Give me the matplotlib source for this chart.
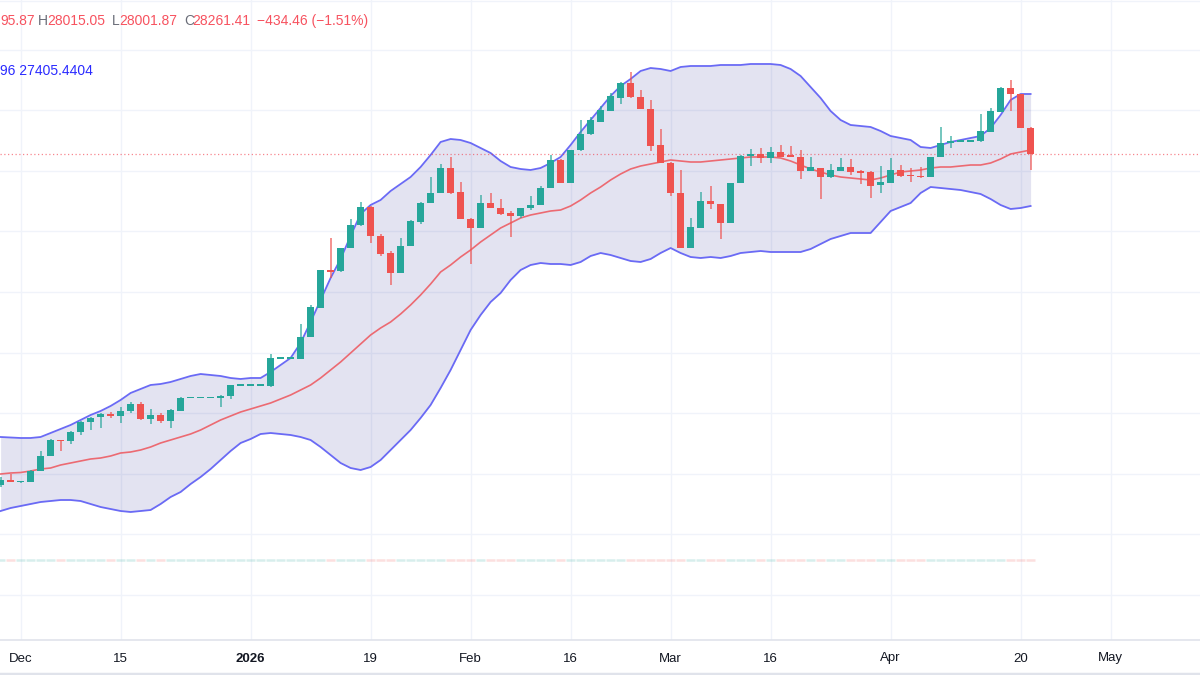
import numpy as np
import pandas as pd
import matplotlib
matplotlib.use("Agg")
import matplotlib.pyplot as plt

# ---------------- data ----------------
dates = pd.bdate_range("2025-11-27", periods=104)

opens = [
    25150, 25200, 25180, 25180, 25290, 25440, 25600, 25590, 25680, 25780,
    25830, 25855, 25840, 25890, 25960, 25810, 25850, 25790, 25890, 26023,
    26023, 26023, 26025, 26040, 26150, 26150, 26150, 26140, 26420, 26420,
    26410, 26630, 26920, 27300, 27290, 27520, 27750, 27930, 27640, 27470,
    27270, 27540, 27780, 27970, 28070, 28320, 28080, 27810, 27720, 27970,
    27920, 27870, 27840, 27920, 27950, 28120, 28400, 28170, 28500, 28660,
    28780, 28890, 29020, 29170, 29030, 28910, 28550, 28370, 28070, 27520,
    27720, 27990, 27960, 27770, 28170, 28440, 28460, 28420, 28480, 28445,
    28430, 28290, 28320, 28230, 28290, 28330, 28285, 28280, 28150, 28170,
    28300, 28250, 28240, 28230, 28430, 28570, 28590, 28590, 28590, 28680,
    28880, 29120, 29060, 28720,
]
highs = [
    25230, 25260, 25190, 25300, 25490, 25610, 25600, 25690, 25790, 25830,
    25870, 25880, 25930, 25980, 25980, 25910, 25870, 25910, 26030, 26023,
    26023, 26023, 26050, 26150, 26150, 26150, 26150, 26460, 26420, 26420,
    26760, 26950, 27300, 27620, 27520, 27810, 27980, 27940, 27660, 27490,
    27620, 27800, 27980, 28230, 28360, 28430, 28180, 27820, 28050, 28070,
    28010, 27890, 27920, 28040, 28140, 28450, 28410, 28500, 28800, 28830,
    28940, 29070, 29180, 29280, 29100, 29000, 28710, 28380, 28300, 27820,
    28080, 28140, 27960, 28170, 28450, 28510, 28520, 28530, 28550, 28540,
    28500, 28430, 28320, 28360, 28420, 28410, 28300, 28290, 28340, 28420,
    28350, 28320, 28330, 28430, 28730, 28640, 28590, 28590, 28860, 28920,
    29130, 29200, 29060, 28730,
]
lows = [
    25130, 25180, 25175, 25180, 25290, 25440, 25490, 25560, 25650, 25700,
    25720, 25820, 25770, 25870, 25800, 25760, 25770, 25720, 25890, 26023,
    26023, 26023, 25930, 26010, 26150, 26150, 26150, 26130, 26420, 26420,
    26410, 26630, 26920, 27220, 27280, 27520, 27740, 27570, 27440, 27150,
    27270, 27540, 27760, 27970, 28070, 28060, 27810, 27360, 27720, 27920,
    27850, 27630, 27820, 27900, 27950, 28120, 28170, 28170, 28490, 28650,
    28780, 28890, 28960, 29020, 28910, 28490, 28370, 28040, 27520, 27520,
    27720, 27910, 27610, 27770, 28170, 28340, 28370, 28370, 28430, 28430,
    28210, 28290, 28010, 28220, 28290, 28250, 28160, 28020, 28070, 28170,
    28230, 28180, 28220, 28230, 28430, 28520, 28590, 28590, 28580, 28680,
    28880, 28890, 28720, 28300,
]
closes = [
    25200, 25180, 25185, 25290, 25440, 25600, 25590, 25680, 25780, 25820,
    25860, 25845, 25890, 25960, 25810, 25850, 25790, 25900, 26020, 26023,
    26023, 26023, 26045, 26150, 26150, 26150, 26150, 26420, 26420, 26420,
    26630, 26930, 27300, 27285, 27520, 27750, 27930, 27640, 27460, 27270,
    27540, 27790, 27970, 28070, 28320, 28070, 27810, 27720, 27970, 27920,
    27860, 27840, 27920, 27950, 28120, 28400, 28170, 28500, 28660, 28800,
    28900, 29040, 29170, 29030, 28910, 28540, 28370, 28070, 27520, 27730,
    27990, 27960, 27770, 28170, 28440, 28460, 28420, 28480, 28430, 28435,
    28290, 28330, 28230, 28300, 28330, 28280, 28275, 28140, 28180, 28300,
    28240, 28240, 28230, 28430, 28570, 28590, 28590, 28590, 28690, 28890,
    29120, 29060, 28720, 28460,
]

bb_upper = [
    25630, 25625, 25620, 25620, 25630, 25670, 25710, 25750, 25800, 25850,
    25890, 25940, 26000, 26070, 26110, 26150, 26160, 26180, 26210, 26240,
    26260, 26250, 26240, 26220, 26210, 26220, 26220, 26280, 26350, 26420,
    26570, 26780, 27000, 27220, 27410, 27640, 27860, 27950, 28000, 28090,
    28160, 28230, 28330, 28450, 28580, 28610, 28600, 28570, 28520, 28470,
    28390, 28330, 28310, 28300, 28320, 28370, 28430, 28550, 28680, 28800,
    28920, 29040, 29140, 29210, 29290, 29320, 29310, 29290, 29330, 29340,
    29340, 29340, 29350, 29350, 29350, 29360, 29360, 29360, 29350, 29310,
    29240, 29130, 29020, 28890, 28800, 28750, 28740, 28730, 28690, 28640,
    28620, 28600, 28530, 28520, 28550, 28580, 28600, 28620, 28640, 28720,
    28850, 29000, 29060, 29060,
]
bb_mid = [
    25260, 25270, 25275, 25290, 25310, 25320, 25350, 25370, 25390, 25410,
    25420, 25440, 25470, 25480, 25500, 25530, 25570, 25600, 25630, 25660,
    25700, 25750, 25800, 25840, 25880, 25910, 25940, 25970, 26010, 26050,
    26100, 26150, 26220, 26300, 26380, 26470, 26560, 26650, 26720, 26780,
    26860, 26950, 27050, 27160, 27280, 27350, 27430, 27500, 27580, 27650,
    27720, 27770, 27820, 27850, 27870, 27890, 27900, 27940, 28000, 28070,
    28130, 28200, 28260, 28310, 28340, 28360, 28380, 28400, 28390, 28380,
    28380, 28390, 28400, 28410, 28420, 28430, 28430, 28430, 28420, 28390,
    28350, 28310, 28280, 28250, 28230, 28220, 28210, 28200, 28220, 28250,
    28280, 28290, 28300, 28320, 28330, 28330, 28340, 28350, 28350, 28370,
    28410, 28460, 28480, 28500,
]
bb_lower = [
    24890, 24920, 24940, 24960, 24980, 24990, 25000, 25000, 24990, 24960,
    24930, 24910, 24890, 24880, 24890, 24900, 24960, 25030, 25080, 25160,
    25230, 25310, 25400, 25490, 25570, 25610, 25660, 25670, 25660, 25650,
    25630, 25600, 25530, 25450, 25370, 25320, 25300, 25330, 25400, 25500,
    25600, 25700, 25820, 25950, 26120, 26300, 26500, 26700, 26850, 26980,
    27070, 27200, 27300, 27350, 27370, 27360, 27360, 27350, 27380, 27440,
    27470, 27450, 27420, 27390, 27380, 27410, 27470, 27520, 27470, 27430,
    27420, 27430, 27420, 27440, 27470, 27480, 27490, 27480, 27480, 27480,
    27480, 27510, 27560, 27610, 27640, 27670, 27670, 27670, 27780, 27890,
    27930, 27970, 28070, 28130, 28120, 28110, 28100, 28080, 28060, 28010,
    27950, 27910, 27920, 27940,
]

tick_dates = ["2025-12-01", "2025-12-15", "2026-01-01", "2026-01-19", "2026-02-02",
              "2026-02-16", "2026-03-02", "2026-03-16", "2026-04-01", "2026-04-20",
              "2026-05-01"]
tick_labels = ["Dec", "15", "2026", "19", "Feb", "16", "Mar", "16", "Apr", "20", "May"]

header_parts = [("95.87", "red"), ("H", "gray"), ("28015.05", "red"),
                ("L", "gray"), ("28001.87", "red"), ("C", "gray"),
                ("28261.41", "red"), ("−434.46 (−1.51%)", "red")]
header_x = [0, 38, 47.5, 112, 119, 184, 192.5, 257]
indicator_text = "96 27405.4404"

# ---------------- styling ----------------
UP = "#26a69a"
DOWN = "#ef5350"
FONT = ["Liberation Sans", "DejaVu Sans"]
plt.rcParams["font.family"] = FONT

W, H = 1200, 675
fig = plt.figure(figsize=(12, 6.75), dpi=100)
fig.patch.set_facecolor("white")
ax = fig.add_axes([0, 35 / H, 1, 640 / H])

n = len(dates)
x = np.arange(n)
o = np.array(opens, float)
h = np.array(highs, float)
l = np.array(lows, float)
c = np.array(closes, float)
up = c >= o
cols = np.where(up, UP, DOWN)

start = np.datetime64(dates[0].date())
tick_pos = [np.busday_count(start, np.datetime64(d)) for d in tick_dates]

ax.set_xlim(-0.06, 119.94)
ax.set_ylim(23600, 30000)

# grid
for tp in tick_pos:
    ax.axvline(tp, color="#f0f3fa", lw=1.0, zorder=0)
for gy in np.arange(24050, 29600, 606):
    ax.axhline(gy, color="#f0f3fa", lw=1.0, zorder=0)

# Bollinger bands
ax.fill_between(x, bb_lower, bb_upper, color=(0, 0, 0.5), alpha=0.11, lw=0, zorder=1)
ax.plot(x, bb_upper, color="#6a6af5", lw=1.3, zorder=2)
ax.plot(x, bb_lower, color="#6a6af5", lw=1.3, zorder=2)
ax.plot(x, bb_mid, color="#ec6a72", lw=1.2, zorder=2)

# candles
ax.vlines(x, l, h, colors=cols, lw=1.2, alpha=0.75, zorder=3)
body_h = np.maximum(np.abs(c - o), 14)
body_b = np.where(np.abs(c - o) < 14, (o + c) / 2 - 7, np.minimum(o, c))
ax.bar(x, body_h, bottom=body_b, width=0.72, color=cols, lw=0, zorder=4)

# faint volume baseline
ax.hlines(np.full(n, 24400.0), x - 0.45, x + 0.45, colors=cols, lw=1.8, alpha=0.18, zorder=2)

# last price line
ax.axhline(c[-1], color="#f23645", lw=0.9, ls=(0, (1, 2)), alpha=0.6, zorder=2)

# axes styling
for s in ["top", "left", "right"]:
    ax.spines[s].set_visible(False)
ax.spines["bottom"].set_color("#e0e3eb")
ax.spines["bottom"].set_linewidth(1.2)
ax.set_yticks([])
ax.set_xticks(tick_pos)
ax.set_xticklabels(tick_labels, fontsize=9.5, color="#131722")
for lab in ax.get_xticklabels():
    if lab.get_text() == "2026":
        lab.set_fontweight("bold")
ax.tick_params(axis="x", length=0, pad=9)
ax.set_facecolor("white")

# header texts
colors_map = {"red": "#f7525f", "gray": "#6a6d78"}
for (txt, cname), px in zip(header_parts, header_x):
    fig.text(px / W, 1 - 21 / H, txt, color=colors_map[cname], fontsize=10,
             va="center", ha="left")
fig.text(0 / W, 1 - 71 / H, indicator_text, color="#2a2aff", fontsize=10,
         va="center", ha="left")

# frame lines
fig.add_artist(plt.Line2D([0, 1], [1 - 0.5 / H, 1 - 0.5 / H], color="#f0f3fa", lw=1))
fig.add_artist(plt.Line2D([0, 1], [1.5 / H, 1.5 / H], color="#e0e3eb", lw=2.5))

fig.savefig("out.png", dpi=100)
